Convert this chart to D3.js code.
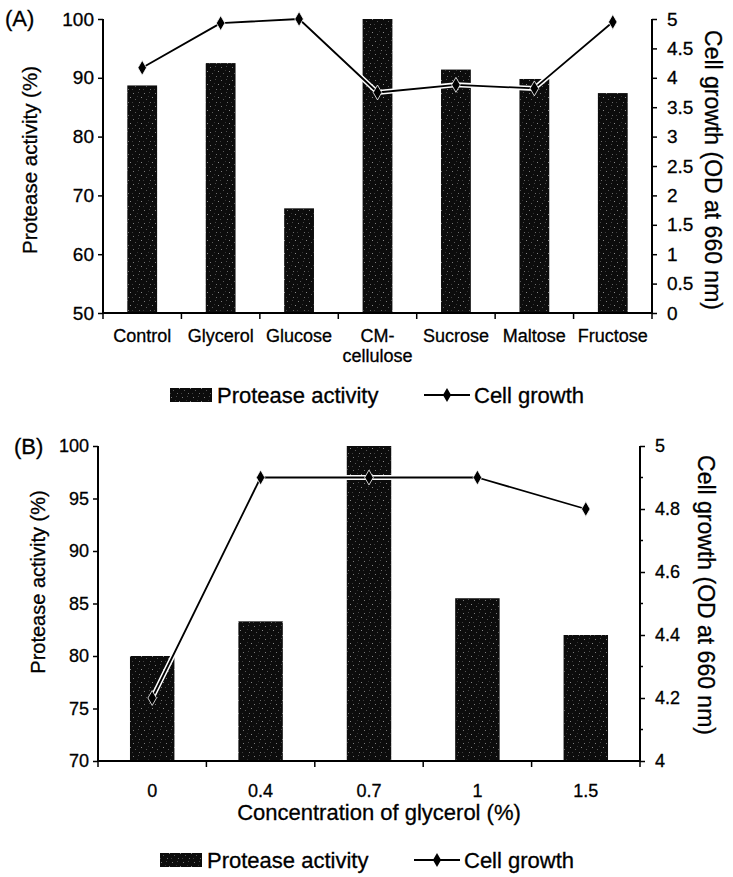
<!DOCTYPE html>
<html>
<head>
<meta charset="utf-8">
<script src="https://cdn.jsdelivr.net/npm/d3@7/dist/d3.min.js"></script>
<style>
  html, body { margin: 0; padding: 0; background: #fff; }
  svg { display: block; }
  text { font-family: "Liberation Sans", Arial, Helvetica, sans-serif; fill: #000; stroke: #000; stroke-width: 0.3px; }
</style>
</head>
<body>
<script>
// ---- Panel A: carbon sources ----
const sourcesA = ["Control", "Glycerol", "Glucose", "CM-cellulose", "Sucrose", "Maltose", "Fructose"];
const sourceLabelsA = [["Control"], ["Glycerol"], ["Glucose"], ["CM-", "cellulose"], ["Sucrose"], ["Maltose"], ["Fructose"]];
const proteaseA = [88.7, 92.5, 67.8, 100, 91.4, 89.8, 87.4];
const growthA = [4.17, 4.93, 5.0, 3.75, 3.88, 3.82, 4.95];
const leftTicksA = [50, 60, 70, 80, 90, 100];
const rightTicksA = [0, 0.5, 1, 1.5, 2, 2.5, 3, 3.5, 4, 4.5, 5];

// ---- Panel B: glycerol concentration ----
const concB = ["0", "0.4", "0.7", "1", "1.5"];
const proteaseB = [80, 83.3, 100, 85.5, 82];
const growthB = [4.2, 4.9, 4.9, 4.9, 4.8];
const leftTicksB = [70, 75, 80, 85, 90, 95, 100];
const rightTicksB = [4, 4.2, 4.4, 4.6, 4.8, 5];
const rightMinorB = [4.1, 4.3, 4.5, 4.7, 4.9];

const W = 733, H = 877;
const svg = d3.select("body").append("svg").attr("width", W).attr("height", H);

// speckled dark fill for the bars
const defs = svg.append("defs");
const pat = defs.append("pattern").attr("id", "speckle")
  .attr("patternUnits", "userSpaceOnUse").attr("width", 11).attr("height", 13);
pat.append("rect").attr("width", 11).attr("height", 13).attr("fill", "#0c0c0c");
[[1, 2, "#7a7a7a"], [6, 1, "#4a4a4a"], [9, 6, "#8a8a8a"], [3, 8, "#5a5a5a"], [7, 11, "#6e6e6e"], [0, 11, "#3e3e3e"], [5, 5, "#333"]]
  .forEach(([x, y, c]) => pat.append("rect").attr("x", x).attr("y", y).attr("width", 1).attr("height", 1).attr("fill", c));

function panel(cfg) {
  const g = svg.append("g");
  const x = d3.scaleBand().domain(cfg.cats).range([cfg.x0, cfg.x1]).padding(0);
  const yL = d3.scaleLinear().domain(cfg.leftDomain).range([cfg.yb, cfg.yt]);
  const yR = d3.scaleLinear().domain(cfg.rightDomain).range([cfg.yb, cfg.yt]);
  const bw = x.bandwidth() * cfg.barFrac;

  // bars
  g.selectAll("rect.bar").data(cfg.cats).join("rect").attr("class", "bar")
    .attr("x", d => x(d) + (x.bandwidth() - bw) / 2)
    .attr("width", bw)
    .attr("y", (d, i) => yL(cfg.bars[i]))
    .attr("height", (d, i) => cfg.yb - yL(cfg.bars[i]))
    .attr("fill", "url(#speckle)");

  // axes
  const axL = d3.axisLeft(yL).tickValues(cfg.leftTicks).tickSize(5).tickPadding(4).tickFormat(d3.format("d"));
  const gL = g.append("g").attr("transform", `translate(${cfg.x0},0)`).call(axL);
  const axR = d3.axisRight(yR).tickValues(cfg.rightTicks).tickSize(5).tickPadding(10).tickFormat(d => String(d));
  const gR = g.append("g").attr("transform", `translate(${cfg.x1},0)`).call(axR);
  if (cfg.rightMinor) {
    gR.selectAll("line.minor").data(cfg.rightMinor).join("line").attr("class", "minor")
      .attr("x1", 0).attr("x2", 3).attr("y1", d => yR(d)).attr("y2", d => yR(d))
      .attr("stroke", "#000").attr("stroke-width", 1.5);
  }
  const gX = g.append("g").attr("transform", `translate(0,${cfg.yb})`);
  gX.append("line").attr("x1", cfg.x0).attr("x2", cfg.x1).attr("stroke", "#000").attr("stroke-width", 2);
  const bounds = cfg.cats.map(d => x(d)).concat([cfg.x1]);
  gX.selectAll("line.tick").data(bounds).join("line").attr("class", "tick")
    .attr("x1", d => d).attr("x2", d => d).attr("y1", 0).attr("y2", 6)
    .attr("stroke", "#000").attr("stroke-width", 1.5);

  [gL, gR].forEach(a => {
    a.select(".domain").attr("stroke", "#000").attr("stroke-width", 2).attr("d", `M0,${cfg.yt}V${cfg.yb}`);
    a.selectAll(".tick line").attr("stroke", "#000").attr("stroke-width", 1.5);
    a.selectAll(".tick text").style("font-size", cfg.tickFont + "px").attr("fill", "#000");
  });

  // category labels
  g.selectAll("text.cat").data(cfg.cats).join("text").attr("class", "cat")
    .attr("x", d => x(d) + x.bandwidth() / 2)
    .attr("y", cfg.catY)
    .attr("text-anchor", "middle")
    .style("font-size", cfg.catFont + "px")
    .each(function (d, i) {
      const lines = cfg.catLines[i];
      d3.select(this).selectAll("tspan").data(lines).join("tspan")
        .attr("x", x(d) + x.bandwidth() / 2)
        .attr("dy", (l, j) => j === 0 ? 0 : cfg.catFont * 1.12)
        .text(l => l);
    });

  // growth line with white halo where it crosses the dark bars
  const pts = cfg.cats.map((d, i) => [x(d) + x.bandwidth() / 2, yR(cfg.line[i])]);
  const line = d3.line();
  g.append("path").attr("d", line(pts)).attr("fill", "none").attr("stroke", "#fff").attr("stroke-width", 5).attr("stroke-linejoin", "round");
  g.append("path").attr("d", line(pts)).attr("fill", "none").attr("stroke", "#000").attr("stroke-width", 1.8).attr("stroke-linejoin", "round");
  g.selectAll("path.mk").data(pts).join("path").attr("class", "mk")
    .attr("transform", d => `translate(${d[0]},${d[1]})`)
    .attr("d", d3.symbol(d3.symbolDiamond, 64))
    .attr("fill", "#000").attr("stroke", "#fff").attr("stroke-width", 0.8);

  // titles
  g.append("text").attr("x", cfg.tagX).attr("y", cfg.tagY).style("font-size", "22px").text(cfg.tag);
  g.append("text").attr("transform", `translate(${cfg.lTitleX},${cfg.lTitleY}) rotate(-90)`)
    .attr("text-anchor", "middle").attr("dy", "0.35em").style("font-size", cfg.lTitleFont + "px").text("Protease activity (%)");
  g.append("text").attr("transform", `translate(${cfg.rTitleX},${cfg.rTitleY}) rotate(90)`)
    .attr("text-anchor", "middle").attr("dy", "0.35em").style("font-size", cfg.rTitleFont + "px").text("Cell growth (OD at 660 nm)");
  if (cfg.xTitle) {
    g.append("text").attr("x", (cfg.x0 + cfg.x1) / 2 + 10).attr("y", cfg.xTitleY).attr("text-anchor", "middle")
      .style("font-size", "22px").text(cfg.xTitle);
  }

  // legend
  const lg = g.append("g").attr("transform", `translate(${cfg.legX},${cfg.legY})`);
  lg.append("rect").attr("x", 0).attr("y", -7).attr("width", 42).attr("height", 14).attr("fill", "url(#speckle)");
  lg.append("text").attr("x", 47).attr("y", 0).attr("dy", "0.36em").style("font-size", "22px").text("Protease activity");
  lg.append("line").attr("x1", 254).attr("x2", 300).attr("y1", 0).attr("y2", 0).attr("stroke", "#000").attr("stroke-width", 1.8);
  lg.append("path").attr("transform", "translate(277,0)").attr("d", d3.symbol(d3.symbolDiamond, 58)).attr("fill", "#000");
  lg.append("text").attr("x", 304).attr("y", 0).attr("dy", "0.36em").style("font-size", "22px").text("Cell growth");
}

panel({
  cats: sourcesA, catLines: sourceLabelsA, bars: proteaseA, line: growthA,
  x0: 103, x1: 652, yt: 19, yb: 313, barFrac: 0.38,
  leftDomain: [50, 100], rightDomain: [0, 5], leftTicks: leftTicksA, rightTicks: rightTicksA,
  tickFont: 19, catFont: 18, catY: 342,
  tag: "(A)", tagX: 5, tagY: 26,
  lTitleX: 30, lTitleY: 160, lTitleFont: 20.5,
  rTitleX: 713, rTitleY: 170, rTitleFont: 23,
  legX: 170, legY: 395
});

panel({
  cats: concB, catLines: concB.map(c => [c]), bars: proteaseB, line: growthB,
  x0: 98, x1: 640, yt: 446, yb: 761, barFrac: 0.41,
  leftDomain: [70, 100], rightDomain: [4, 5], leftTicks: leftTicksB, rightTicks: rightTicksB, rightMinor: rightMinorB,
  tickFont: 18, catFont: 18, catY: 797,
  tag: "(B)", tagX: 14, tagY: 454,
  lTitleX: 38, lTitleY: 582, lTitleFont: 20,
  rTitleX: 706, rTitleY: 595, rTitleFont: 23,
  xTitle: "Concentration of glycerol (%)", xTitleY: 820,
  legX: 160, legY: 860
});
</script>
</body>
</html>
